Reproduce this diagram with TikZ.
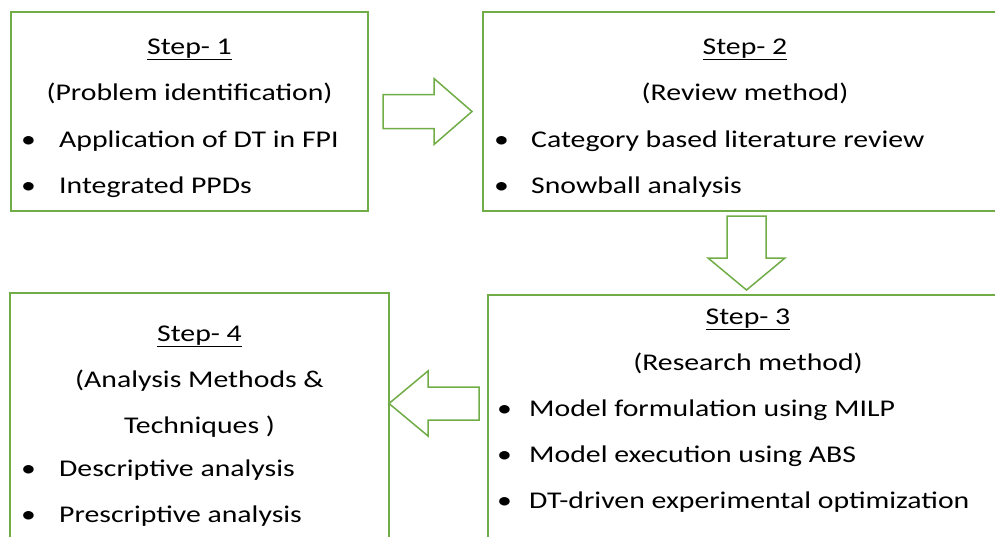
\documentclass[tikz,border=0pt]{standalone}
\usepackage{fontspec}
\setmainfont{Carlito}[FakeStretch=1.24]
\usetikzlibrary{positioning,calc}
\definecolor{stepGreen}{HTML}{70AD47}
% bullet line: bullet in a fixed-width box, then the text
\newcommand{\stepitem}[2][38pt]{\makebox[#1][l]{•}#2}
\tikzset{
    stepbox/.style={
        rectangle,
        draw=stepGreen,
        line width=2pt,
        inner sep=0pt,
        anchor=north west
    },
    stepText/.style={font=\fontsize{24}{46}\selectfont, inner sep=0pt},
    % base anchor sits on the last line
    stepTitle/.style={stepText, align=center, anchor=base},
    stepList/.style={stepText, align=left, anchor=base west},
    % hollow block arrows between the steps
    blockArrow/.style={draw=stepGreen, line width=1.5pt, fill=white, line join=miter}
}

\begin{document}
\begin{tikzpicture}[x=1pt, y=-1pt]
    \useasboundingbox (0,0) rectangle (995,536);
    \clip (0,0) rectangle (995,536);

    % Boxes
    \node[stepbox, minimum width=357pt, minimum height=199pt] (step1) at (10,11) {};
    \node[stepbox, minimum width=524pt, minimum height=199pt] (step2) at (482,11) {};
    \node[stepbox, minimum width=520pt, minimum height=270pt] (step3) at (487,294) {};
    \node[stepbox, minimum width=379pt, minimum height=270pt] (step4) at (9,292) {};

    % Step 1
    \node[stepTitle] (step1head) at ($(step1.north)+(0,89)$) {\underline{Step- 1}\\(Problem identification)};
    \node[stepList] (step1list) at ($(step1.north west)+(11,182)$) {\stepitem{Application of DT in FPI}\\\stepitem{Integrated PPDs}};

    % Step 2
    \node[stepTitle] (step2head) at ($(step2.north)+(0,89)$) {\underline{Step- 2}\\(Review method)};
    \node[stepList] (step2list) at ($(step2.north west)+(12,182)$) {\stepitem[37pt]{Category based literature review}\\\stepitem[37pt]{Snowball analysis}};

    % Step 3
    \node[stepTitle] (step3head) at ($(step3.north)+(0,76)$) {\underline{Step- 3}\\(Research method)};
    \node[stepList] (step3list) at ($(step3.north west)+(10,214)$) {\stepitem[32pt]{Model formulation using MILP}\\\stepitem[32pt]{Model execution using ABS}\\\stepitem[32pt]{DT-driven experimental optimization}};

    % Step 4
    \node[stepTitle] (step4head) at ($(step4.north)+(0,141)$) {\underline{Step- 4}\\(Analysis Methods \&\\Techniques )};
    \node[stepList] (step4list) at ($(step4.north west)+(12,230)$) {\stepitem{Descriptive analysis}\\\stepitem{Prescriptive analysis}};

    % Arrows
    \coordinate (a12) at ($(step1.east)+(14,0)$);
    \coordinate (a23) at (746.5,216);
    \coordinate (a34) at (479,403.5);
    \draw[blockArrow] (a12) ++(0,-17) -- ++(51,0) -- ++(0,-16) -- ++(38,33) -- ++(-38,33) -- ++(0,-16) -- ++(-51,0) -- cycle;
    \draw[blockArrow] (a23) ++(-19.5,0) -- ++(39,0) -- ++(0,42) -- ++(19,0) -- ++(-38.5,32) -- ++(-38.5,-32) -- ++(19,0) -- cycle;
    \draw[blockArrow] (a34) ++(0,-16.5) -- ++(-51,0) -- ++(0,-16) -- ++(-39,32.5) -- ++(39,32.5) -- ++(0,-16) -- ++(51,0) -- cycle;
\end{tikzpicture}
\end{document}
